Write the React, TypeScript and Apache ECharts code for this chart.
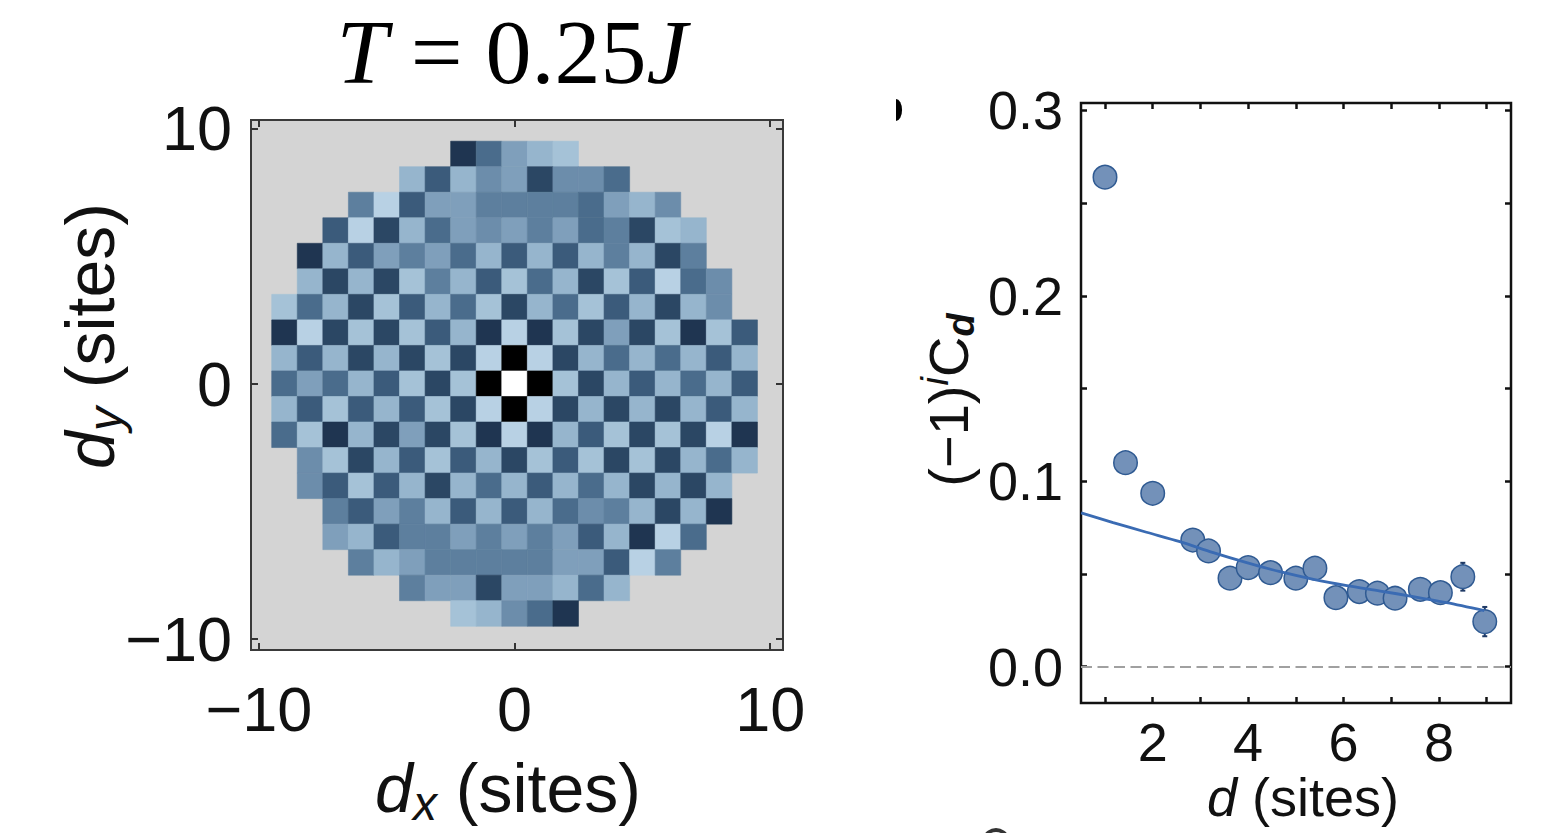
import React, { useEffect, useRef } from 'react';
import * as echarts from 'echarts';

// ---------- Left panel: correlation map (colour level per site, 0 = black ... 11 = white)
const rowDy = [9, 8, 7, 6, 5, 4, 3, 2, 1, 0, -1, -2, -3, -4, -5, -6, -7, -8, -9];
const rowStartDx = [-2, -4, -6, -7, -8, -8, -9, -9, -9, -9, -9, -9, -8, -8, -7, -7, -6, -4, -2];
const rowLevels = [
  [1, 4, 7, 8, 9],
  [8, 3, 8, 6, 7, 2, 6, 6, 4],
  [5, 10, 3, 7, 7, 5, 5, 5, 5, 4, 7, 8, 6],
  [3, 10, 2, 8, 4, 7, 6, 7, 5, 7, 4, 5, 2, 9, 8],
  [1, 8, 3, 7, 5, 7, 4, 8, 3, 8, 3, 8, 5, 8, 2, 5],
  [8, 2, 8, 2, 9, 5, 8, 3, 9, 4, 8, 2, 9, 3, 10, 4, 6],
  [9, 4, 8, 2, 9, 3, 8, 4, 9, 2, 8, 4, 9, 3, 8, 2, 8, 6],
  [1, 10, 2, 9, 2, 9, 3, 8, 1, 10, 1, 9, 2, 7, 2, 9, 1, 9, 3],
  [8, 3, 8, 2, 8, 2, 9, 2, 10, 0, 10, 2, 8, 4, 8, 4, 8, 3, 8],
  [4, 7, 4, 8, 3, 9, 2, 9, 0, 11, 0, 9, 2, 8, 3, 8, 4, 8, 3],
  [8, 3, 9, 3, 8, 3, 9, 2, 10, 0, 10, 2, 8, 2, 8, 2, 8, 3, 8],
  [4, 9, 1, 8, 2, 7, 2, 9, 1, 10, 1, 8, 3, 9, 2, 9, 2, 10, 1],
  [6, 9, 2, 8, 3, 9, 3, 8, 2, 9, 3, 9, 2, 9, 2, 8, 4, 8],
  [6, 3, 9, 3, 8, 2, 8, 4, 8, 3, 8, 4, 8, 2, 8, 2, 8],
  [5, 3, 7, 5, 8, 3, 8, 3, 8, 4, 6, 5, 8, 2, 8, 1],
  [7, 8, 3, 5, 5, 7, 5, 7, 5, 7, 3, 8, 1, 10, 4],
  [5, 8, 7, 5, 5, 5, 5, 5, 7, 7, 3, 10, 5],
  [5, 7, 7, 2, 7, 7, 8, 4, 8],
  [9, 8, 6, 4, 1],
];
const mapTicks = [-10, 0, 10];

// ---------- Right panel: staggered correlation vs distance
const dValues = [1.0, 1.43, 2.0, 2.84, 3.17, 3.62, 4.0, 4.47, 5.0, 5.4, 5.84, 6.33, 6.71, 7.08, 7.61, 8.03, 8.5, 8.96];
const corrValues = [0.264, 0.11, 0.0935, 0.0683, 0.0624, 0.0477, 0.0534, 0.0507, 0.0477, 0.0531, 0.0372, 0.0405, 0.0396, 0.0369, 0.0417, 0.0399, 0.0485, 0.0243];
const corrErrors = [0, 0, 0, 0, 0, 0, 0, 0, 0, 0, 0, 0, 0, 0, 0, 0, 0.0075, 0.0079];
const fitD = [0.5, 1.17, 1.87, 2.57, 3.27, 3.97, 4.67, 5.37, 6.07, 6.77, 7.46, 8.16, 8.95];
const fitC = [0.0829, 0.0777, 0.0725, 0.0674, 0.0615, 0.0561, 0.0512, 0.0471, 0.0437, 0.0408, 0.0378, 0.0345, 0.0302];
const dTicks = [1, 2, 3, 4, 5, 6, 7, 8, 9];
const dLabels = [2, 4, 6, 8];
const cTicks = [0, 0.05, 0.1, 0.15, 0.2, 0.25, 0.3];
const cLabels = [0, 0.1, 0.2, 0.3];

const palette = ['#000000', '#1f3551', '#2b4764', '#3b5b7b', '#4a6c8c', '#5d7f9e', '#6c8dab', '#7f9fbb', '#96b5cd', '#a5c2d7', '#b8d1e4', '#ffffff'];

const SANS = 'Liberation Sans, Arial, Helvetica, sans-serif';
const SERIF = 'Liberation Serif, Times New Roman, serif';

function buildOption() {
  const heatData: number[][] = [];
  rowDy.forEach((dy, r) => {
    rowLevels[r].forEach((lv, k) => heatData.push([rowStartDx[r] + k, dy, lv]));
  });
  const scatterData = dValues.map((d, i) => [d, corrValues[i]]);
  const fitData = fitD.map((d, i) => [d, fitC[i]]);
  const errData = dValues
    .map((d, i) => [d, corrValues[i] - corrErrors[i], corrValues[i] + corrErrors[i], corrErrors[i]])
    .filter((e) => e[3] > 0);

  const minus = (v: number) => String(v).replace('-', '\u2212');
  const leftLabelSize = 63;
  const rightLabelSize = 54;

  const mapAxisCommon = (isLabel: boolean) => ({
    type: 'value',
    gridIndex: 0,
    axisLine: { show: false, onZero: false },
    splitLine: { show: false },
    axisTick: { show: true, inside: true, length: 7, customValues: mapTicks, lineStyle: { color: '#333', width: 2 } },
    axisLabel: isLabel
      ? { show: true, customValues: mapTicks, formatter: minus, fontSize: leftLabelSize, fontFamily: SANS, color: '#111' }
      : { show: false },
  });

  const dAxisCommon = (isLabel: boolean) => ({
    type: 'value',
    gridIndex: 1,
    min: 0.497,
    max: 9.51,
    axisLine: { show: false, onZero: false },
    splitLine: { show: false },
    axisTick: { show: true, inside: true, length: 6, customValues: dTicks, lineStyle: { color: '#111', width: 2.5 } },
    axisLabel: isLabel
      ? { show: true, customValues: dLabels, fontSize: rightLabelSize, fontFamily: SANS, color: '#111', margin: 12 }
      : { show: false },
  });
  const cAxisCommon = (isLabel: boolean) => ({
    type: 'value',
    gridIndex: 1,
    min: -0.0196,
    max: 0.304,
    axisLine: { show: false, onZero: false },
    splitLine: { show: false },
    axisTick: { show: true, inside: true, length: 6, customValues: cTicks, lineStyle: { color: '#111', width: 2.5 } },
    axisLabel: isLabel
      ? {
          show: true,
          customValues: cLabels,
          formatter: (v: number) => v.toFixed(1),
          fontSize: rightLabelSize,
          fontFamily: SANS,
          color: '#111',
          margin: 18,
        }
      : { show: false },
  });

  const subRich = (size: number, sub: number, shift: number, lh: number) => ({
    it: { fontStyle: 'italic', fontSize: size, fontFamily: SANS, fill: '#111', lineHeight: lh },
    n: { fontSize: size, fontFamily: SANS, fill: '#111', lineHeight: lh },
    sub: { fontStyle: 'italic', fontSize: sub, fontFamily: SANS, fill: '#111', lineHeight: lh, padding: [shift * 2, 0, 0, 0] },
    subb: { fontStyle: 'italic', fontWeight: 'bold', fontSize: sub, fontFamily: SANS, fill: '#111', lineHeight: lh, padding: [shift * 2, 0, 0, 0] },
    sup: { fontStyle: 'italic', fontSize: sub, fontFamily: SANS, fill: '#111', lineHeight: lh, padding: [0, 0, shift * 2, 0] },
  });

  const centered = {
    align: 'center',
    verticalAlign: 'middle',
    textAlign: 'center',
    textVerticalAlign: 'middle',
  };

  return {
    animation: false,
    backgroundColor: '#ffffff',
    grid: [
      { left: 251, top: 120, width: 532, height: 530, show: true, backgroundColor: '#d4d4d4', borderColor: '#3a3a3a', borderWidth: 2 },
      { left: 1081, top: 103, width: 430, height: 600, show: true, backgroundColor: '#ffffff', borderColor: '#111', borderWidth: 2.5 },
    ],
    xAxis: [
      { ...mapAxisCommon(true), position: 'bottom', min: -10.31, max: 10.5, axisLabel: { ...mapAxisCommon(true).axisLabel, margin: 27 } },
      { ...mapAxisCommon(false), position: 'top', min: -10.31, max: 10.5 },
      { ...dAxisCommon(true), position: 'bottom' },
      { ...dAxisCommon(false), position: 'top' },
    ],
    yAxis: [
      { ...mapAxisCommon(true), position: 'left', min: -10.43, max: 10.33, axisLabel: { ...mapAxisCommon(true).axisLabel, margin: 19 } },
      { ...mapAxisCommon(false), position: 'right', min: -10.43, max: 10.33 },
      { ...cAxisCommon(true), position: 'left' },
      { ...cAxisCommon(false), position: 'right' },
    ],
    visualMap: {
      show: false,
      type: 'continuous',
      min: 0,
      max: 11,
      dimension: 2,
      seriesIndex: 0,
      inRange: { color: palette },
    },
    series: [
      {
        type: 'custom',
        name: 'map',
        xAxisIndex: 0,
        yAxisIndex: 0,
        data: heatData,
        renderItem: (params: any, api: any) => {
          const x = api.value(0);
          const y = api.value(1);
          const p0 = api.coord([x - 0.5, y + 0.5]);
          const p1 = api.coord([x + 0.5, y - 0.5]);
          const c = api.visual('color');
          return {
            type: 'rect',
            shape: { x: p0[0], y: p0[1], width: p1[0] - p0[0], height: p1[1] - p0[1] },
            style: { fill: c, stroke: c, lineWidth: 0.6 },
          };
        },
        z: 2,
      },
      {
        type: 'custom',
        name: 'errors',
        xAxisIndex: 2,
        yAxisIndex: 2,
        data: errData,
        renderItem: (params: any, api: any) => {
          const x = api.value(0);
          const lo = api.coord([x, api.value(1)]);
          const hi = api.coord([x, api.value(2)]);
          const st = { stroke: '#1f3a66', lineWidth: 2 };
          return {
            type: 'group',
            children: [
              { type: 'line', shape: { x1: lo[0], y1: lo[1], x2: hi[0], y2: hi[1] }, style: st },
              { type: 'line', shape: { x1: lo[0] - 2.5, y1: lo[1], x2: lo[0] + 2.5, y2: lo[1] }, style: st },
              { type: 'line', shape: { x1: hi[0] - 2.5, y1: hi[1], x2: hi[0] + 2.5, y2: hi[1] }, style: st },
            ],
          };
        },
        z: 2,
      },
      {
        type: 'scatter',
        name: 'data',
        xAxisIndex: 2,
        yAxisIndex: 2,
        data: scatterData,
        symbol: 'circle',
        symbolSize: 23.5,
        itemStyle: { color: '#7391b9', borderColor: '#2f5a92', borderWidth: 1.5, opacity: 1 },
        markLine: {
          silent: true,
          symbol: 'none',
          label: { show: false },
          lineStyle: { color: '#a0a0a0', type: [11, 5.5], width: 2 },
          data: [{ yAxis: 0 }],
        },
        z: 3,
      },
      {
        type: 'line',
        name: 'fit',
        xAxisIndex: 2,
        yAxisIndex: 2,
        data: fitData,
        smooth: 0.3,
        showSymbol: false,
        symbol: 'none',
        lineStyle: { color: '#3a6bb3', width: 2.8 },
        z: 4,
      },
    ],
    graphic: [
      {
        type: 'text',
        x: 512,
        y: 52,
        style: {
          text: '{i|T} = 0.25{i|J}',
          rich: { i: { fontStyle: 'italic', fontFamily: SERIF, fontSize: 92, fill: '#000' } },
          fontFamily: SERIF,
          fontSize: 92,
          fill: '#000',
          ...centered,
        },
      },
      {
        type: 'text',
        x: 508,
        y: 788,
        style: {
          text: '{it|d}{sub|x}{n| (sites)}',
          rich: subRich(68, 48, 15, 110),
          fontSize: 68,
          fontFamily: SANS,
          ...centered,
        },
      },
      {
        type: 'group',
        x: 90,
        y: 336,
        rotation: Math.PI / 2,
        children: [
          {
            type: 'text',
            x: 0,
            y: 0,
            style: {
              text: '{it|d}{sub|y}{n| (sites)}',
              rich: subRich(68, 48, 15, 110),
              fontSize: 68,
              fontFamily: SANS,
              ...centered,
            },
          },
        ],
      },
      {
        type: 'text',
        x: 1303,
        y: 797,
        style: {
          text: '{it|d}{n| (sites)}',
          rich: subRich(54, 38, 10, 80),
          fontSize: 54,
          fontFamily: SANS,
          ...centered,
        },
      },
      {
        type: 'group',
        x: 948,
        y: 400,
        rotation: Math.PI / 2,
        children: [
          {
            type: 'text',
            x: 0,
            y: 0,
            style: {
              text: '{n|(\u22121)}{sup|i}{n|C}{subb|d}',
              rich: subRich(56, 38, 13, 90),
              fontSize: 56,
              fontFamily: SANS,
              ...centered,
            },
          },
        ],
      },
      {
        type: 'group',
        x: 896,
        y: 110,
        scaleX: 0.55,
        children: [
          { type: 'sector', shape: { cx: 0, cy: 0, r: 11, r0: 0, startAngle: -Math.PI / 2, endAngle: Math.PI / 2 }, style: { fill: '#000' } },
        ],
      },
      {
        type: 'arc',
        shape: { cx: 996, cy: 842, r: 12, startAngle: Math.PI * 1.1, endAngle: Math.PI * 1.9 },
        style: { stroke: '#333', lineWidth: 4, fill: 'none' },
      },
    ],
  };
}

export default function App() {
  const ref = useRef<HTMLDivElement>(null);
  useEffect(() => {
    if (!ref.current) return;
    const chart = echarts.init(ref.current, null, { renderer: 'svg' });
    chart.setOption(buildOption() as any);
    return () => chart.dispose();
  }, []);
  return (
    <div
      ref={ref}
      style={{ position: 'fixed', left: 0, top: 0, width: 1542, height: 833, background: '#fff' }}
    />
  );
}
